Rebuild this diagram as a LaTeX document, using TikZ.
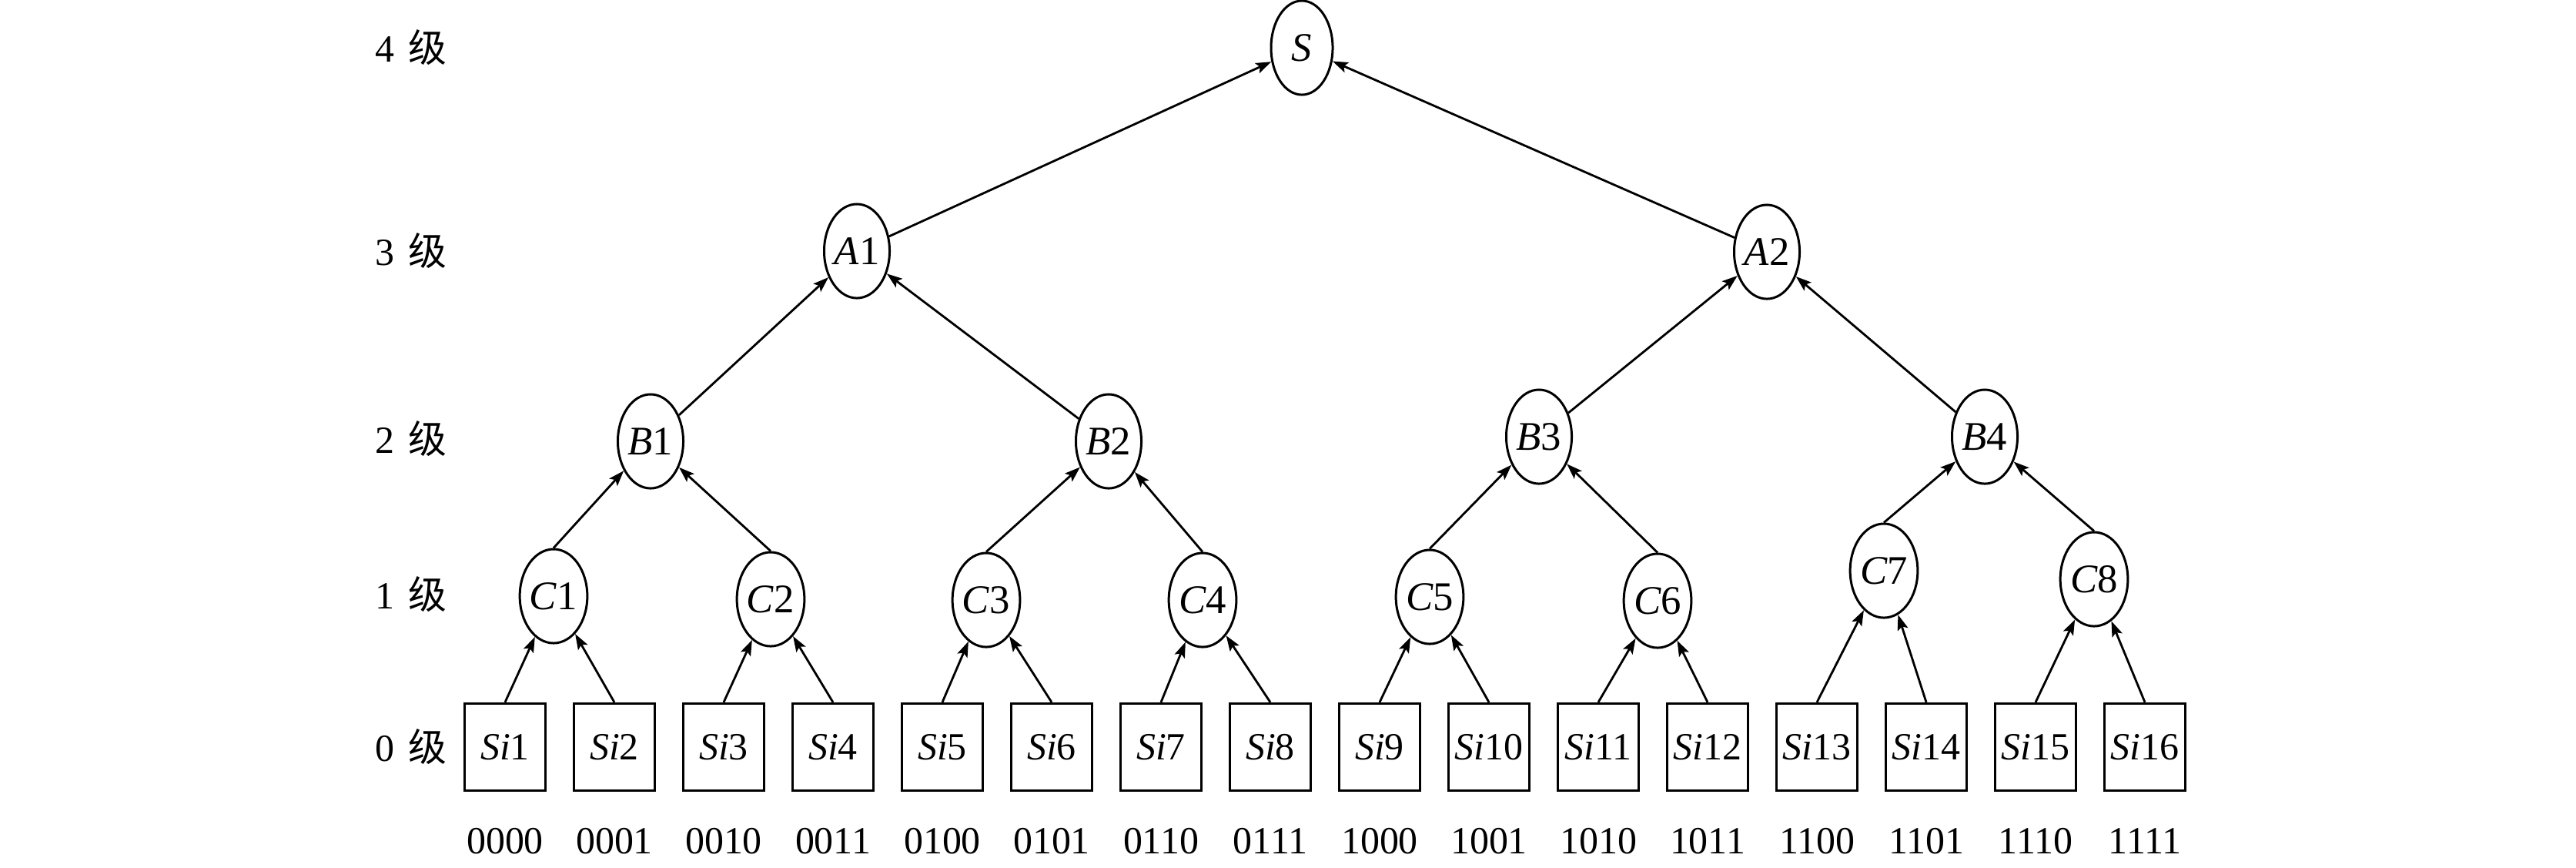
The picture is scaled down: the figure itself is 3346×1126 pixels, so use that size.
\documentclass[tikz,border=0pt]{standalone}
\usepackage{fontspec}
\setmainfont{Liberation Serif}
\newfontfamily\cjkfont{Noto Sans CJK SC}
\usetikzlibrary{shapes.geometric,arrows.meta}
\begin{document}
\begin{tikzpicture}[x=0.01cm, y=-0.01cm,
  every node/.style={font=\fontsize{14.2}{17}\selectfont},
  ell/.style={draw, ellipse, line width=0.85pt, minimum width=0.85cm, minimum height=1.22cm, inner sep=0pt, font=\fontsize{15}{18}\selectfont},
  leaf/.style={draw, rectangle, line width=0.95pt, minimum width=1.05cm, minimum height=1.13cm, inner sep=0pt},
  arr/.style={-{Stealth[length=0.2cm,width=0.14cm,inset=0.04cm]}, line width=0.8pt},
  lvl/.style={anchor=west, inner sep=0pt},
  code/.style={inner sep=0pt}]
\useasboundingbox (0,0) rectangle (3346,1126);

% level labels
\node[lvl] (L4) at (487,62)  {4\hspace{0.35em}{\cjkfont 级}};
\node[lvl] (L3) at (487,326) {3\hspace{0.35em}{\cjkfont 级}};
\node[lvl] (L2) at (487,570) {2\hspace{0.35em}{\cjkfont 级}};
\node[lvl] (L1) at (487,772) {1\hspace{0.35em}{\cjkfont 级}};
\node[lvl] (L0) at (487,970) {0\hspace{0.35em}{\cjkfont 级}};

% tree nodes
\node[ell, minimum width=0.8cm] (S) at (1691,62) {\textit{S}};
\node[ell] (A1) at (1113,326) {\textit{A}1};
\node[ell] (A2) at (2295,327) {\textit{A}2};
\node[ell] (B1) at (845,573) {\textit{B}1};
\node[ell] (B2) at (1440,573) {\textit{B}2};
\node[ell] (B3) at (1999,567) {\textit{B}3};
\node[ell] (B4) at (2578,567) {\textit{B}4};
\node[ell] (C1) at (719,774) {\textit{C}1};
\node[ell] (C2) at (1001,778) {\textit{C}2};
\node[ell] (C3) at (1281,779) {\textit{C}3};
\node[ell] (C4) at (1562,779) {\textit{C}4};
\node[ell] (C5) at (1857,775) {\textit{C}5};
\node[ell] (C6) at (2153,780) {\textit{C}6};
\node[ell] (C7) at (2447,741) {\textit{C}7};
\node[ell] (C8) at (2720,752) {\textit{C}8};

\foreach \i in {1,...,16} {
  \node[leaf] (Si\i) at ({656+142*(\i-1)},970) {\textit{Si}\i};
}
\foreach \c [count=\i] in {0000,0001,0010,0011,0100,0101,0110,0111,1000,1001,1010,1011,1100,1101,1110,1111} {
  \node[code] (b\i) at ({656+142*(\i-1)},1092) {\c};
}

% connectors
\foreach \k in {1,...,8} {
  \pgfmathtruncatemacro{\l}{2*\k-1}
  \pgfmathtruncatemacro{\r}{2*\k}
  \draw[arr] (Si\l.north) -- (C\k);
  \draw[arr] (Si\r.north) -- (C\k);
}
\draw[arr] (C1.north) -- (B1);
\draw[arr] (C2.north) -- (B1);
\draw[arr] (C3.north) -- (B2);
\draw[arr] (C4.north) -- (B2);
\draw[arr] (C5.north) -- (B3);
\draw[arr] (C6.north) -- (B3);
\draw[arr] (C7.north) -- (B4);
\draw[arr] (C8.north) -- (B4);
\draw[arr] (B1) -- (A1);
\draw[arr] (B2) -- (A1);
\draw[arr] (B3) -- (A2);
\draw[arr] (B4) -- (A2);
\draw[arr] (A1) -- (S);
\draw[arr] (A2) -- (S);
\end{tikzpicture}
\end{document}
